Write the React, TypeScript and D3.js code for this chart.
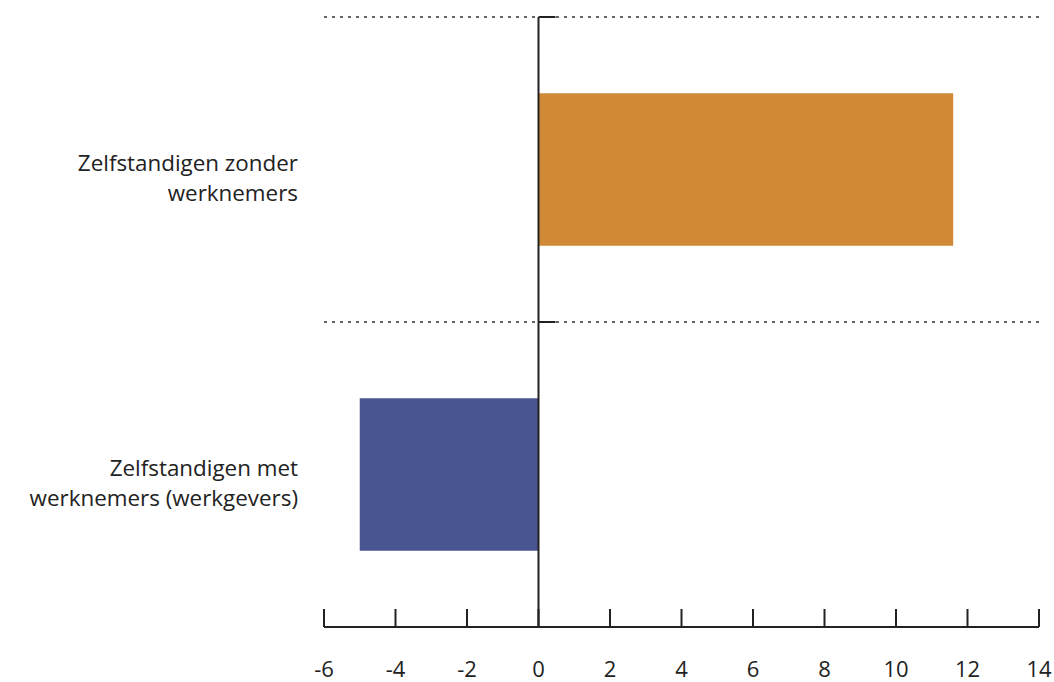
import React from "react";
import * as d3 from "d3";

const categories = [
  ["Zelfstandigen zonder", "werknemers"],
  ["Zelfstandigen met", "werknemers (werkgevers)"],
];
const values = [11.6, -5.0];
const colors = ["#D08A37", "#495591"];
const xTicks = [-6, -4, -2, 0, 2, 4, 6, 8, 10, 12, 14];

const width = 1054;
const height = 682;
const font = "'Open Sans', sans-serif";

const App: React.FC = () => {
  const x = d3.scaleLinear().domain([-6, 14]).range([324, 1039]);
  const y = d3
    .scaleBand<number>()
    .domain(categories.map((_, i) => i))
    .range([17, 627])
    .paddingInner(0.5)
    .paddingOuter(0.25);

  const step = y.step();
  const bounds = [17, 17 + step]; // dashed separators
  const axisY = 627;

  return (
    <svg
      width={width}
      height={height}
      style={{ position: "absolute", left: 0, top: 0, background: "#fff" }}
    >
      {/* dashed grid */}
      {bounds.map((b, i) => (
        <line
          key={i}
          x1={x(-6)}
          x2={x(14)}
          y1={b}
          y2={b}
          stroke="#333"
          strokeWidth={1.5}
          strokeDasharray="3 5"
        />
      ))}

      {/* bars */}
      {values.map((v, i) => (
        <rect
          key={i}
          x={Math.min(x(0), x(v))}
          y={y(i)}
          width={Math.abs(x(v) - x(0))}
          height={y.bandwidth()}
          fill={colors[i]}
        />
      ))}

      {/* vertical zero axis */}
      <line x1={x(0)} x2={x(0)} y1={17} y2={axisY} stroke="#222" strokeWidth={2} />
      {bounds.map((b, i) => (
        <line key={i} x1={x(0)} x2={x(0) + 17} y1={b} y2={b} stroke="#222" strokeWidth={2} />
      ))}

      {/* x axis */}
      <line x1={x(-6)} x2={x(14)} y1={axisY} y2={axisY} stroke="#222" strokeWidth={2} />
      {xTicks.map((t) => (
        <g key={t}>
          <line x1={x(t)} x2={x(t)} y1={axisY - 18} y2={axisY} stroke="#222" strokeWidth={2} />
          <text
            x={x(t)}
            y={677}
            textAnchor="middle"
            fontFamily={font}
            fontSize={22}
            fill="#222"
          >
            {t}
          </text>
        </g>
      ))}

      {/* category labels */}
      {categories.map((lines, i) => {
        const cy = (y(i) ?? 0) + y.bandwidth() / 2;
        return (
          <text
            key={i}
            x={298}
            textAnchor="end"
            fontFamily={font}
            fontSize={22.4}
            fill="#222"
          >
            {lines.map((l, j) => (
              <tspan key={j} x={298} y={cy + 1 + j * 30}>
                {l}
              </tspan>
            ))}
          </text>
        );
      })}
    </svg>
  );
};

export default App;
